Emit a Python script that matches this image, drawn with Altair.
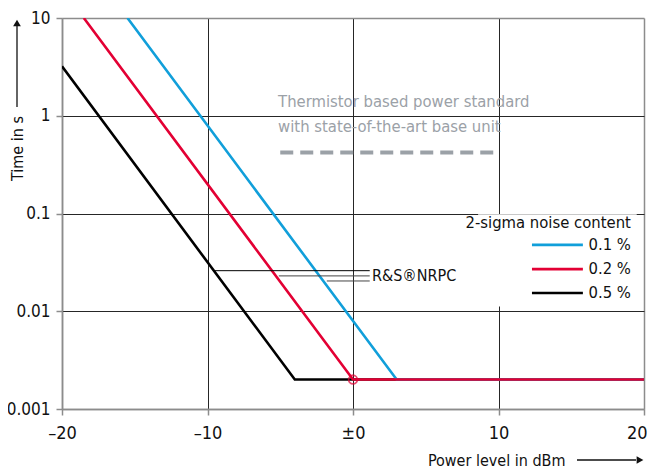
import altair as alt
import pandas as pd

# ---------------- data ----------------
levels = ["0.1 %", "0.2 %", "0.5 %"]
level_colors = ["#119fda", "#e30034", "#000000"]

# corner points of each curve (power level in dBm, time in s)
p01_x = [-15.5, 3, 20]
p01_y = [10, 0.002, 0.002]
p02_x = [-18.5, 0, 20]
p02_y = [10, 0.002, 0.002]
p05_x = [-20, -4, 20]
p05_y = [3.2, 0.002, 0.002]

marker_x = [0]
marker_y = [0.002]

x_ticks = [-20, -10, 0, 10, 20]
x_tick_labels = ["–20", "–10", "±0", "10", "20"]
y_ticks = [0.001, 0.01, 0.1, 1, 10]
y_tick_labels = ["0.001", "0.01", "0.1", "1", "10"]

thermistor_lines = ["Thermistor based power standard", "with state-of-the-art base unit"]
thermistor_text_x = -5.15
thermistor_text_y = [1.38, 0.767]
thermistor_x = [-5.0, 10]
thermistor_y = [0.42, 0.42]

nrpc_label = "R&S®NRPC"
nrpc_label_x = 1.3
nrpc_label_y = 0.0232
leader_y = [0.026, 0.023, 0.0204]
leader_x0 = [-9.6, -5.1, -1.8]
leader_x1 = [1.15, 1.15, 1.15]
leader_colors = ["#000000", "#444444", "#444444"]

legend_title = "2-sigma noise content"
legend_title_x = 19.1
legend_title_y = 0.080
legend_y = [0.0477, 0.0270, 0.01538]
legend_x0 = 12.3
legend_x1 = 15.8
legend_label_x = 19.1
legend_box_x = [8.6, 19.5]
legend_box_y = [0.0112, 0.098]

FONT = "'DejaVu Sans Condensed', 'Liberation Sans Narrow', sans-serif"
W, H = 582, 391
PAD = {"left": 54, "top": 10, "right": 3, "bottom": 59}

xs = alt.Scale(domain=[-20, 20], nice=False, zero=False)
ys = alt.Scale(type="log", domain=[0.001, 10], nice=False)

x_label_expr = "{" + ",".join(f"'{v}':'{l}'" for v, l in zip(x_ticks, x_tick_labels)) + "}[datum.value]"
y_label_expr = ("datum.value < 0.005 ? '0.001' : datum.value < 0.05 ? '0.01' : "
                "datum.value < 0.5 ? '0.1' : datum.value < 5 ? '1' : '10'")

x_axis = alt.Axis(
    values=x_ticks, labelExpr=x_label_expr, title="Power level in dBm",
    titleX=503, titleY=51, titleAlign="right", titleBaseline="middle", titleAnchor="start",
    titleFontWeight="normal", titleFontSize=16, titleColor="#111",
    labelFontSize=18, labelPadding=9, labelColor="#111", labelFlush=False,
    labelAlign={"expr": "datum.value > 19 ? 'right' : 'center'"},
    labelOffset={"expr": "datum.value > 19 ? 3 : 0"},
    tickSize=6, tickColor="#8c8c8c", tickWidth=1.5,
    domainColor="#8c8c8c", domainWidth=1.5,
    grid=True,
    gridColor={"expr": "abs(datum.value) > 19 ? '#8c8c8c' : '#262626'"},
    gridWidth={"expr": "abs(datum.value) > 19 ? 1.5 : 1"},
)
y_axis = alt.Axis(
    values=y_ticks, labelExpr=y_label_expr, title="Time in s",
    titleX=-45, titleY=130, titleAngle=270, titleAlign="center", titleBaseline="middle",
    titleFontWeight="normal", titleFontSize=16, titleColor="#111",
    labelFontSize=17, labelPadding=6, labelColor="#111", labelFlush=False,
    tickSize=6, tickColor="#8c8c8c", tickWidth=1.5,
    domainColor="#8c8c8c", domainWidth=1.5,
    grid=True,
    gridColor={"expr": "datum.value > 9 || datum.value < 0.0011 ? '#8c8c8c' : '#262626'"},
    gridWidth={"expr": "datum.value > 9 || datum.value < 0.0011 ? 1.5 : 1"},
)


def curve(px, py, color):
    df = pd.DataFrame({"x": px, "y": py})
    return alt.Chart(df).mark_line(color=color, strokeWidth=2.6, strokeCap="butt", clip=True).encode(
        x=alt.X("x:Q", scale=xs, axis=x_axis),
        y=alt.Y("y:Q", scale=ys, axis=y_axis),
    )


base_curves = [
    curve(p05_x, p05_y, level_colors[2]),
    curve(p01_x, p01_y, level_colors[0]),
    curve(p02_x, p02_y, level_colors[1]),
]

marker = alt.Chart(pd.DataFrame({"x": marker_x, "y": marker_y})).mark_point(
    shape="circle", filled=False, color=level_colors[1], size=75, strokeWidth=1.8
).encode(x=alt.X("x:Q", scale=xs), y=alt.Y("y:Q", scale=ys))

# thermistor reference
therm_line = alt.Chart(pd.DataFrame({"x": thermistor_x, "y": thermistor_y})).mark_line(
    color="#9ba1a7", strokeWidth=4, strokeDash=[13, 7]
).encode(x=alt.X("x:Q", scale=xs), y=alt.Y("y:Q", scale=ys))
therm_text = alt.Chart(pd.DataFrame({"t": thermistor_lines, "x": [thermistor_text_x] * 2, "y": thermistor_text_y})).mark_text(
    align="left", baseline="middle", font=FONT, fontSize=16.5, color="#9ba1a7"
).encode(x=alt.X("x:Q", scale=xs), y=alt.Y("y:Q", scale=ys), text="t:N")

# NRPC leader lines
leaders = alt.Chart(pd.DataFrame({"x": leader_x0, "x2": leader_x1, "y": leader_y, "c": leader_colors})).mark_rule(
    strokeWidth=1
).encode(x=alt.X("x:Q", scale=xs), x2="x2:Q", y=alt.Y("y:Q", scale=ys), color=alt.Color("c:N", scale=None))
nrpc_text = alt.Chart(pd.DataFrame({"t": [nrpc_label], "x": [nrpc_label_x], "y": [nrpc_label_y]})).mark_text(
    align="left", baseline="middle", font=FONT, fontSize=16, color="#111"
).encode(x=alt.X("x:Q", scale=xs), y=alt.Y("y:Q", scale=ys), text="t:N")

# legend (drawn in plot)
leg_box = alt.Chart(pd.DataFrame({"x": [legend_box_x[0]], "x2": [legend_box_x[1]],
                                  "y": [legend_box_y[0]], "y2": [legend_box_y[1]]})).mark_rect(
    color="white"
).encode(x=alt.X("x:Q", scale=xs), x2="x2:Q", y=alt.Y("y:Q", scale=ys), y2="y2:Q")
leg_title = alt.Chart(pd.DataFrame({"t": [legend_title], "x": [legend_title_x], "y": [legend_title_y]})).mark_text(
    align="right", baseline="middle", font=FONT, fontSize=16.5, color="#111"
).encode(x=alt.X("x:Q", scale=xs), y=alt.Y("y:Q", scale=ys), text="t:N")
leg_df = pd.DataFrame({"lab": levels, "c": level_colors, "y": legend_y,
                       "x0": [legend_x0] * 3, "x1": [legend_x1] * 3, "xl": [legend_label_x] * 3})
leg_lines = alt.Chart(leg_df).mark_rule(strokeWidth=2.6).encode(
    x=alt.X("x0:Q", scale=xs), x2="x1:Q", y=alt.Y("y:Q", scale=ys), color=alt.Color("c:N", scale=None))
leg_labels = alt.Chart(leg_df).mark_text(
    align="right", baseline="middle", font=FONT, fontSize=16.5, color="#111"
).encode(x=alt.X("xl:Q", scale=xs), y=alt.Y("y:Q", scale=ys), text="lab:N")

# axis title arrows
one = pd.DataFrame({"a": [0]})
y_arrow = alt.Chart(one).mark_rule(color="#111", strokeWidth=1.3).encode(
    x=alt.value(-45), y=alt.value(89), y2=alt.value(8))
y_head = alt.Chart(one).mark_point(shape="triangle-up", filled=True, color="#111", size=60, opacity=1).encode(
    x=alt.value(-45), y=alt.value(5))
x_arrow = alt.Chart(one).mark_rule(color="#111", strokeWidth=1.3).encode(
    x=alt.value(515), x2=alt.value(574), y=alt.value(H + 51))
x_head = alt.Chart(one).mark_point(shape="triangle-right", filled=True, color="#111", size=60, opacity=1).encode(
    x=alt.value(578), y=alt.value(H + 51))

chart = alt.layer(
    *base_curves, marker, therm_line, therm_text, leaders, nrpc_text,
    leg_box, leg_title, leg_lines, leg_labels,
    y_arrow, y_head, x_arrow, x_head,
).properties(
    width=W, height=H,
    autosize=alt.AutoSizeParams(type="none"),
    padding=PAD,
).configure(
    font=FONT,
).configure_view(stroke=None).configure_axis(labelFont=FONT, titleFont=FONT)

chart.save("out.html", embed_options={"renderer": "svg", "actions": False})
